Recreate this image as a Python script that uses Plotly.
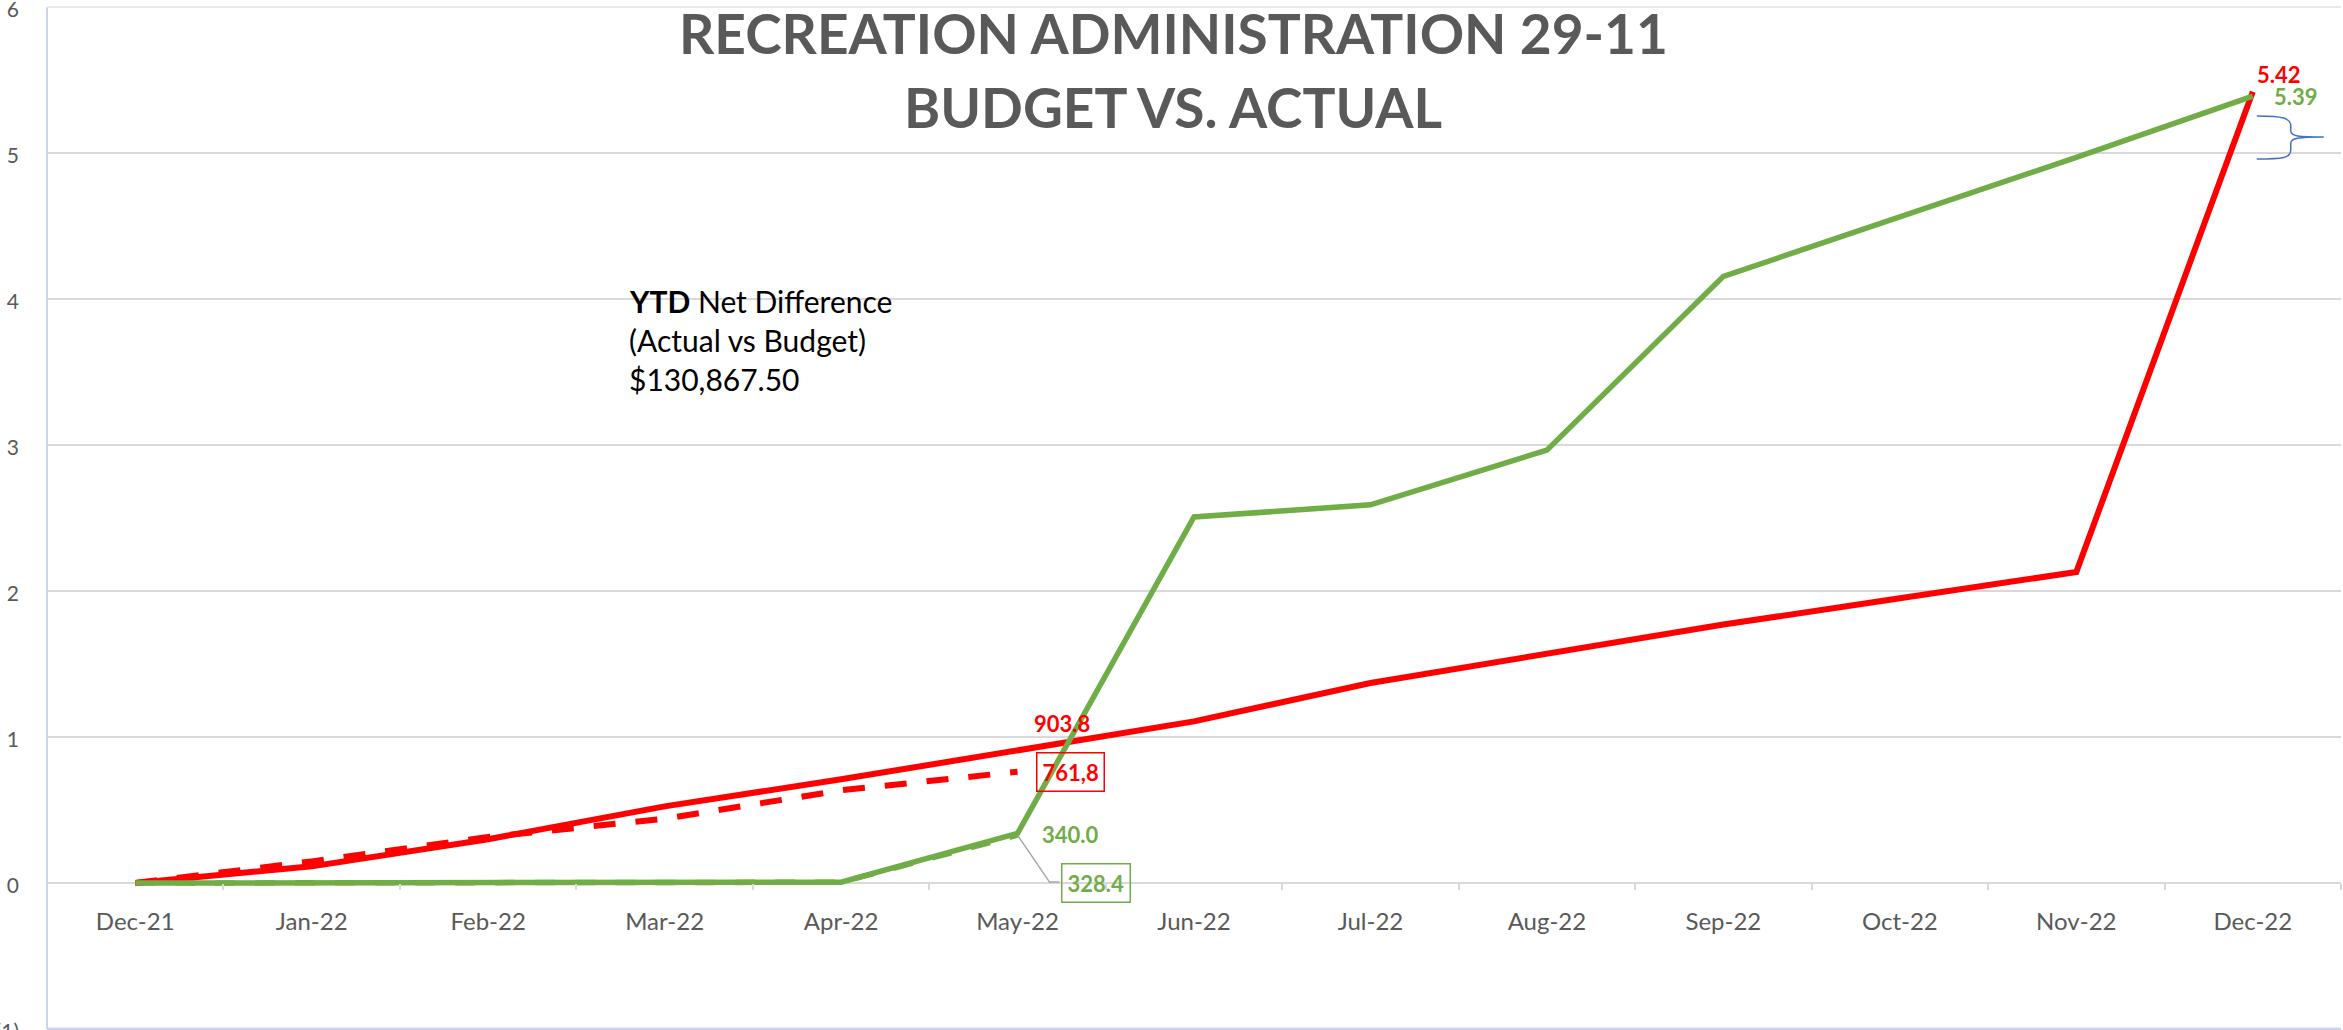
import plotly.graph_objects as go

# ---------------- data ----------------
months = ["Dec-21", "Jan-22", "Feb-22", "Mar-22", "Apr-22", "May-22", "Jun-22",
          "Jul-22", "Aug-22", "Sep-22", "Oct-22", "Nov-22", "Dec-22"]
budget = [0, 0.114, 0.30, 0.525, 0.71, 0.904, 1.107, 1.37, 1.57, 1.77, 1.95, 2.13, 5.42]
actual = [0, 0, 0, 0, 0.005, 0.34, 2.507, 2.59, 2.965, 4.155, 4.56, 4.97, 5.39]
prior_months = months[:6]
budget_prior = [0, 0.148, 0.315, 0.44, 0.635, 0.762]
actual_prior = [0, 0, 0, 0, 0.005, 0.328]

y_tick_vals = [-1, 0, 1, 2, 3, 4, 5, 6]
y_tick_text = ["(1)", "0", "1", "2", "3", "4", "5", "6"]

title_lines = ["RECREATION ADMINISTRATION 29-11", "BUDGET VS. ACTUAL"]
note_lines = ["<b>YTD</b> Net Difference", "(Actual vs Budget)", "$130,867.50"]

# data labels: (month, value, text)
labels_budget = [("May-22", 0.904, "903.8"), ("Dec-22", 5.42, "5.42")]
labels_actual = [("May-22", 0.34, "340.0"), ("Dec-22", 5.39, "5.39")]
label_budget_prior = ("May-22", 0.762, "761,8")
label_actual_prior = ("May-22", 0.328, "328.4")

RED = "#FF0000"
GREEN = "#70AD47"
GRAY_TXT = "#595959"
FONT = "Lato, 'Open Sans', sans-serif"

W, H = 2343, 1030
ML, MR, MT, MB = 47, 2, 7, 1
PW, PH = W - ML - MR, H - MT - MB


def px_to_paper(xp, yp):
    """page pixel -> paper fraction"""
    return (xp - ML) / PW, (H - MB - yp) / PH


fig = go.Figure()

fig.add_trace(go.Scatter(x=prior_months, y=actual_prior, mode="lines",
                         line=dict(color=GREEN, width=5.5, dash="20px,20px"),
                         hoverinfo="skip", showlegend=False))
fig.add_trace(go.Scatter(x=prior_months, y=budget_prior, mode="lines",
                         line=dict(color=RED, width=6, dash="22px,20px"),
                         hoverinfo="skip", showlegend=False))
fig.add_trace(go.Scatter(x=months, y=budget, mode="lines",
                         line=dict(color=RED, width=6),
                         showlegend=False))
fig.add_trace(go.Scatter(x=months, y=actual, mode="lines",
                         line=dict(color=GREEN, width=5.5),
                         showlegend=False))

# ---------------- title ----------------
for txt, yp in zip(title_lines, [33, 107]):
    xpp, ypp = px_to_paper(1173, yp)
    fig.add_annotation(xref="paper", yref="paper", x=xpp, y=ypp,
                       text=txt, showarrow=False, xanchor="center", yanchor="middle",
                       font=dict(family=FONT, size=55, weight="bold", color=GRAY_TXT))

# ---------------- data labels ----------------
lab_font = dict(family=FONT, size=22, weight="bold")
shifts_b = [(44, 28), (26, 17)]
for (m, v, t), (dx, dy) in zip(labels_budget, shifts_b):
    fig.add_annotation(x=m, y=v, text=t, showarrow=False, xshift=dx, yshift=dy,
                       font=dict(lab_font, color=RED))
shifts_a = [(53, -1), (43, 0)]
for (m, v, t), (dx, dy) in zip(labels_actual, shifts_a):
    fig.add_annotation(x=m, y=v, text=t, showarrow=False, xshift=dx, yshift=dy,
                       font=dict(lab_font, color=GREEN))

m, v, t = label_budget_prior
fig.add_annotation(x=m, y=v, text=t, showarrow=False, xshift=53, yshift=0,
                   font=dict(lab_font, color=RED), bordercolor=RED,
                   borderwidth=1.5, borderpad=5)
m, v, t = label_actual_prior
fig.add_annotation(x=m, y=v, text=t, showarrow=False, xshift=78, yshift=-48,
                   font=dict(lab_font, color=GREEN), bordercolor=GREEN,
                   borderwidth=1.5, borderpad=5)
# leader line for 328.4
fig.add_shape(type="path", xref="x", yref="y", xsizemode="pixel", ysizemode="pixel",
              xanchor=label_actual_prior[0], yanchor=label_actual_prior[1],
              path="M 0,0 L 32,-47 L 42,-47",
              line=dict(color="#A6A6A6", width=1.5))

# brace near the end
fig.add_shape(type="path", xref="x", yref="y", xsizemode="pixel", ysizemode="pixel",
              xanchor=labels_actual[1][0], yanchor=labels_actual[1][1],
              path=("M 4,-20 C 30,-20 38,-22 38,-30 L 38,-35 C 38,-40 45,-41 71,-41 "
                    "C 45,-41 38,-42 38,-47 L 38,-54 C 38,-62 30,-63 4,-63"),
              line=dict(color="#4472C4", width=1.5))

# YTD note
note_y = [301, 340, 379]
for txt, yp in zip(note_lines, note_y):
    xpp, ypp = px_to_paper(627, yp)
    fig.add_annotation(xref="paper", yref="paper", x=xpp, y=ypp, text=txt,
                       showarrow=False, xanchor="left", yanchor="middle",
                       font=dict(family=FONT, size=30, color="#000000"))

# zero line (dotted) replacing gridline
fig.add_shape(type="line", xref="paper", yref="y", x0=0, x1=1, y0=0, y1=0,
              line=dict(color="white", width=3), layer="between")
fig.add_shape(type="line", xref="paper", yref="y", x0=0, x1=1, y0=0, y1=0,
              line=dict(color="#BFBFBF", width=1.5, dash="dot"), layer="between")

# plot border
fig.add_shape(type="line", xref="paper", yref="paper", x0=0, x1=0, y0=0, y1=1,
              line=dict(color="#C9D6EE", width=2))
fig.add_shape(type="line", xref="paper", yref="paper", x0=0, x1=1, y0=0, y1=0,
              line=dict(color="#C9D6EE", width=3))
fig.add_shape(type="line", xref="paper", yref="paper", x0=0, x1=1, y0=1, y1=1,
              line=dict(color="#E6E9EF", width=2))

fig.update_layout(
    width=W, height=H,
    margin=dict(l=ML, r=MR, t=MT, b=MB, pad=0, autoexpand=False),
    paper_bgcolor="white", plot_bgcolor="white",
    xaxis=dict(type="category", categoryorder="array", categoryarray=months,
               range=[-0.5, 12.5], anchor="free", position=1 / 7,
               automargin=False,
               showgrid=False, showline=False, zeroline=False,
               tickson="boundaries", ticks="outside", ticklen=6,
               tickcolor="#D9D9D9", tickwidth=1.5,
               ticklabelstandoff=22,
               tickfont=dict(family=FONT, size=24, color=GRAY_TXT)),
    yaxis=dict(range=[-1, 6], tickvals=y_tick_vals, ticktext=y_tick_text,
               automargin=False,
               showgrid=True, gridcolor="#D9D9D9", gridwidth=2,
               zeroline=False, showline=False, ticks="",
               ticklabelstandoff=27, ticklabelshift=3, ticklabeloverflow="allow",
               tickfont=dict(family=FONT, size=21, color=GRAY_TXT)),
    showlegend=False,
)

fig.write_html(
    "out.html",
    config={"displayModeBar": False},
    post_script="document.body.style.margin='0';document.body.style.overflow='hidden';",
)
